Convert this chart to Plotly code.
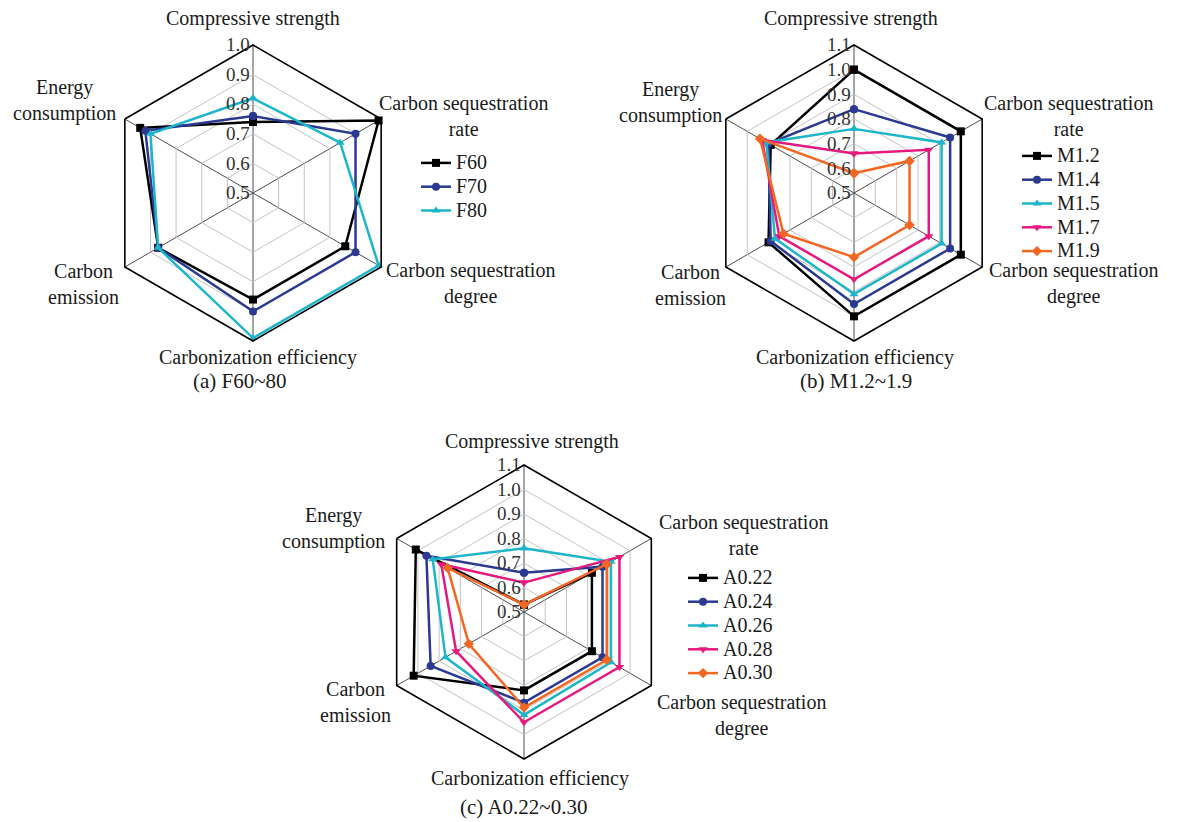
import plotly.graph_objects as go

# page body has an 8px margin: figure is shifted by 8px, so size it to fit
OFF = 8
W, H = 1183 - OFF, 822 - OFF

categories = ["Compressive strength", "Carbon sequestration rate", "Carbon sequestration degree",
              "Carbonization efficiency", "Carbon emission", "Energy consumption"]

# (a) F60~80
names_a = ["F60", "F70", "F80"]
F60 = [0.74, 0.99, 0.86, 0.86, 0.87, 0.94]
F70 = [0.76, 0.90, 0.90, 0.90, 0.87, 0.92]
F80 = [0.82, 0.84, 0.99, 0.99, 0.87, 0.90]

# (b) M1.2~1.9
names_b = ["M1.2", "M1.4", "M1.5", "M1.7", "M1.9"]
M12 = [1.00, 1.00, 1.00, 1.00, 0.90, 0.89]
M14 = [0.84, 0.95, 0.95, 0.95, 0.89, 0.90]
M15 = [0.76, 0.91, 0.91, 0.91, 0.87, 0.91]
M17 = [0.66, 0.85, 0.85, 0.85, 0.85, 0.93]
M19 = [0.58, 0.76, 0.76, 0.76, 0.83, 0.94]

# (c) A0.22~0.30
names_c = ["A0.22", "A0.24", "A0.26", "A0.28", "A0.30"]
A22 = [0.53, 0.82, 0.82, 0.82, 1.02, 1.01]
A24 = [0.66, 0.87, 0.87, 0.87, 0.94, 0.96]
A26 = [0.76, 0.91, 0.91, 0.92, 0.87, 0.93]
A28 = [0.62, 0.95, 0.95, 0.95, 0.82, 0.89]
A30 = [0.53, 0.89, 0.89, 0.89, 0.76, 0.86]

colors = ["#000000", "#2b3990", "#1cb5c9", "#e6197e", "#f26722"]
symbols = ["square", "circle", "triangle-up", "triangle-down", "diamond"]

FONT = "Liberation Serif, Times New Roman, serif"
TXT = "#1a1a1a"

def px(x):
    return (x - OFF) / W

def py(y):
    return 1 - (y - OFF) / H

fig = go.Figure()

def add_series(names, series, polar, legend):
    for i, (n, vals) in enumerate(zip(names, series)):
        fig.add_trace(go.Scatterpolar(
            r=vals + vals[:1], theta=categories + categories[:1],
            mode="lines+markers", name="<span style='font-size:20px'>%s</span>" % n,
            subplot=polar, legend=legend,
            line=dict(color=colors[i], width=2.5),
            marker=dict(color=colors[i], symbol=symbols[i], size=8),
        ))

add_series(names_a, [F60, F70, F80], "polar", "legend")
add_series(names_b, [M12, M14, M15, M17, M19], "polar2", "legend2")
add_series(names_c, [A22, A24, A26, A28, A30], "polar3", "legend3")

def dom(cx, cy, r):
    return dict(x=[px(cx - r), px(cx + r)], y=[py(cy + r), py(cy - r)])

def polar_layout(cx, cy, r, rmax):
    return dict(
        domain=dom(cx, cy, r),
        gridshape="linear",
        bgcolor="white",
        radialaxis=dict(range=[0.5, rmax], tick0=0.5, dtick=0.1, angle=90, tickangle=90,
                        side="counterclockwise",
                        showline=False, ticks="", gridcolor="#c4c4c4", gridwidth=1,
                        tickfont=dict(family=FONT, size=19, color="#333333"),
                        tickformat=".1f"),
        angularaxis=dict(rotation=90, direction="clockwise", showticklabels=False, ticks="",
                         gridcolor="#4d4d4d", gridwidth=1, linecolor="#000000", linewidth=1.6,
                         categoryorder="array", categoryarray=categories),
    )

# base legend font sets item spacing (~24px); names are shown larger via span
LEG_FONT = dict(family=FONT, size=16, color=TXT)

fig.update_layout(
    width=W, height=H, margin=dict(l=0, r=0, t=0, b=0),
    paper_bgcolor="white", plot_bgcolor="white",
    font=dict(family=FONT, size=20, color=TXT),
    polar=polar_layout(253, 193, 148, 1.0),
    polar2=polar_layout(854, 193, 148, 1.1),
    polar3=polar_layout(524, 612, 147, 1.1),
    legend=dict(x=px(416), y=py(146), xanchor="left", yanchor="top",
                font=LEG_FONT, bgcolor="rgba(0,0,0,0)"),
    legend2=dict(x=px(1017), y=py(139), xanchor="left", yanchor="top",
                 font=LEG_FONT, bgcolor="rgba(0,0,0,0)"),
    legend3=dict(x=px(683), y=py(561), xanchor="left", yanchor="top",
                 font=LEG_FONT, bgcolor="rgba(0,0,0,0)"),
)

def ann(text, x, y, xanchor="center", size=20):
    fig.add_annotation(text=text, x=px(x), y=py(y), xref="paper", yref="paper",
                       xanchor=xanchor, yanchor="middle", align="center", showarrow=False,
                       font=dict(family=FONT, size=size, color=TXT))

# axis category labels (a)
ann("Compressive strength", 253, 18)
ann("Carbon sequestration<br>rate", 377, 116, "left")
ann("Carbon sequestration<br>degree", 384, 283, "left")
ann("Carbonization efficiency", 258, 357)
ann("Carbon<br>emission", 83, 284)
ann("Energy<br>consumption", 64, 101)
# (b)
ann("Compressive strength", 851, 18)
ann("Carbon sequestration<br>rate", 982, 116, "left")
ann("Carbon sequestration<br>degree", 987, 283, "left")
ann("Carbonization efficiency", 855, 357)
ann("Carbon<br>emission", 690, 285)
ann("Energy<br>consumption", 670, 102)
# (c)
ann("Compressive strength", 532, 441)
ann("Carbon sequestration<br>rate", 657, 535, "left")
ann("Carbon sequestration<br>degree", 655, 715, "left")
ann("Carbonization efficiency", 530, 778)
ann("Carbon<br>emission", 355, 702)
ann("Energy<br>consumption", 333, 528)

# captions
ann("(a) F60~80", 240, 381, size=21)
ann("(b) M1.2~1.9", 856, 381, size=21)
ann("(c) A0.22~0.30", 523, 807, size=21)

fig.write_html("out.html")
